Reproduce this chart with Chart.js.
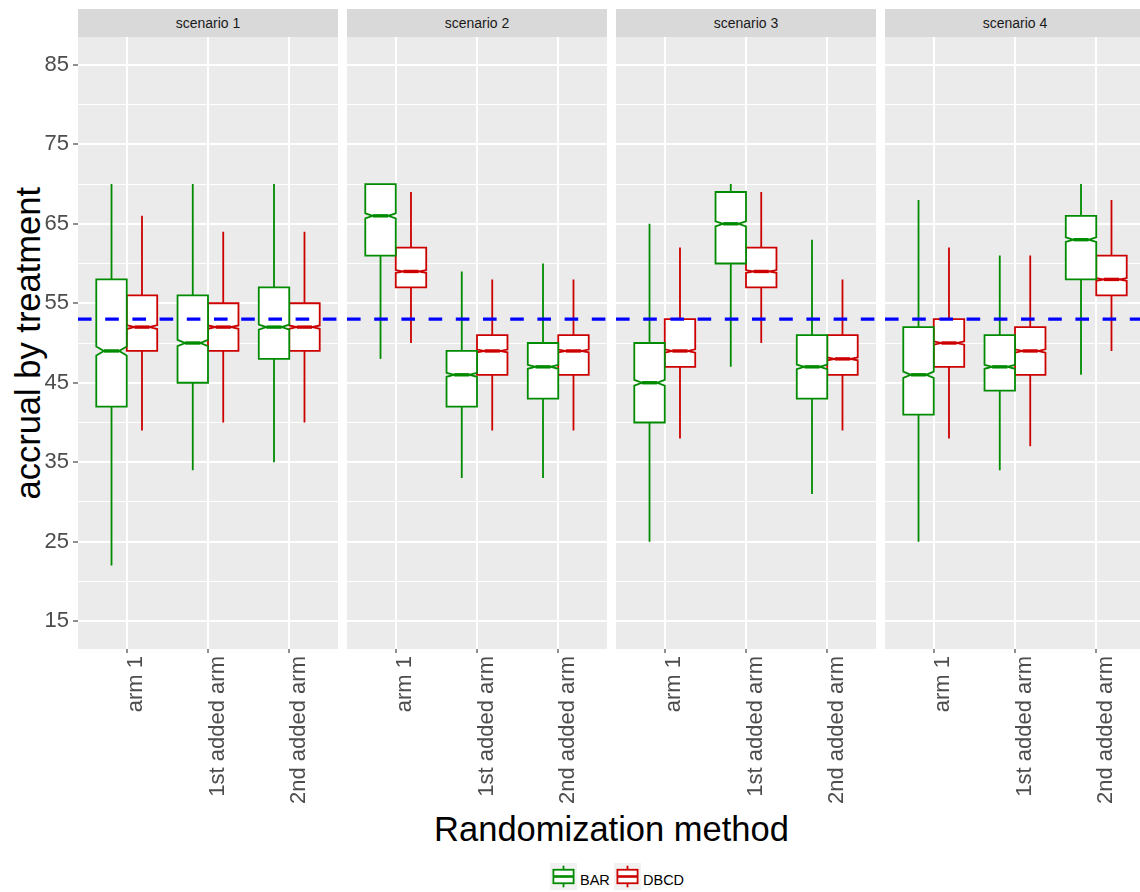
<!DOCTYPE html>
<html>
<head>
<meta charset="utf-8">
<script src="https://cdn.jsdelivr.net/npm/chart.js@4.4.1/dist/chart.umd.min.js"></script>
<style>
html, body { margin: 0; padding: 0; background: #fff; overflow: hidden; width: 1140px; height: 892px; }
body { position: relative; font-family: 'Liberation Sans', Arial, Helvetica, sans-serif; }
.panel { position: absolute; }
.strip { position: absolute; top: 9px; height: 28px; line-height: 28px; background: #D9D9D9; color: #1A1A1A; font-size: 14px; text-align: center; }
.ytitle { position: absolute; width: 400px; height: 34.5px; line-height: 34.5px; font-size: 34.5px; text-align: center; transform: rotate(-90deg); white-space: nowrap; }
.xtitle { position: absolute; width: 600px; height: 34.5px; line-height: 34.5px; font-size: 34.5px; text-align: center; white-space: nowrap; }
.key { position: absolute; top: 863px; }
.ltext { position: absolute; top: 873px; font-size: 14.5px; line-height: 14.5px; color: #000; }
</style>
</head>
<body>
<div class="ytitle" id="yTitle">accrual by treatment</div>
<div class="xtitle" id="xTitle">Randomization method</div>

<script>
// --- Data ---
const scenarios = ["scenario 1", "scenario 2", "scenario 3", "scenario 4"];
const arms = ["arm 1", "1st added arm", "2nd added arm"];
const seriesNames = ["BAR", "DBCD"];

// [lower whisker, Q1, median, Q3, upper whisker] per scenario, per arm
const barStats = [
    [[22, 42, 49, 58, 70], [34, 45, 50, 56, 70], [35, 48, 52, 57, 70]],
    [[48, 61, 66, 70, 70], [33, 42, 46, 49, 59], [33, 43, 47, 50, 60]],
    [[25, 40, 45, 50, 65], [47, 60, 65, 69, 70], [31, 43, 47, 51, 63]],
    [[25, 41, 46, 52, 68], [34, 44, 47, 51, 61], [46, 58, 63, 66, 70]]
];
const dbcdStats = [
    [[39, 49, 52, 56, 66], [40, 49, 52, 55, 64], [40, 49, 52, 55, 64]],
    [[50, 57, 59, 62, 69], [39, 46, 49, 51, 58], [39, 46, 49, 51, 58]],
    [[38, 47, 49, 53, 62], [50, 57, 59, 62, 69], [39, 46, 48, 51, 58]],
    [[38, 47, 50, 53, 62], [37, 46, 49, 52, 61], [49, 56, 58, 61, 68]]
];
const targetAccrual = 53;
const nSims = 2000; // used for notch height

const yMajorTicks = [15, 25, 35, 45, 55, 65, 75, 85];
const yMinorTicks = [20, 30, 40, 50, 60, 70, 80];
const yMin = 11.5, yMax = 88.5;

// --- Layout ---
const colors = ["#008B00", "#CD0000"];
const panelLeft = [78, 347, 616, 885];
const panelW = 260;
const plotTop = 37, plotBottom = 649;
const chartTop = 17, chartBottom = 830;
const yAxisW = 78;
const FONT = "'Liberation Sans', Arial, Helvetica, sans-serif";

Chart.defaults.font.family = FONT;

const isMajor = v => yMajorTicks.includes(v);

// notched boxplots drawn from the bar elements + y scale
const boxPlugin = {
    id: "notchBox",
    beforeDraw(chart) {
        const a = chart.chartArea;
        const ctx = chart.ctx;
        ctx.save();
        ctx.fillStyle = "#EBEBEB";
        ctx.fillRect(a.left, a.top, a.right - a.left, a.bottom - a.top);
        ctx.restore();
    },
    afterDatasetDraw(chart, args) {
        const ds = chart.data.datasets[args.index];
        if (!ds.stats) return;
        const ctx = chart.ctx;
        const y = chart.scales.y;
        const py = v => y.getPixelForValue(v);

        ctx.save();
        ctx.strokeStyle = ds.lineColor;
        args.meta.data.forEach((bar, i) => {
            const [lo, q1, med, q3, hi] = ds.stats[i];
            const x0 = bar.x - bar.width / 2;
            const x1 = bar.x + bar.width / 2;
            const notch = 1.58 * (q3 - q1) / Math.sqrt(nSims);
            const inset = bar.width * 0.25;

            // whiskers
            ctx.lineWidth = 1.8;
            ctx.beginPath();
            ctx.moveTo(bar.x, py(hi)); ctx.lineTo(bar.x, py(q3));
            ctx.moveTo(bar.x, py(q1)); ctx.lineTo(bar.x, py(lo));
            ctx.stroke();

            // box
            ctx.beginPath();
            ctx.moveTo(x0, py(q3));
            ctx.lineTo(x0, py(med + notch));
            ctx.lineTo(x0 + inset, py(med));
            ctx.lineTo(x0, py(med - notch));
            ctx.lineTo(x0, py(q1));
            ctx.lineTo(x1, py(q1));
            ctx.lineTo(x1, py(med - notch));
            ctx.lineTo(x1 - inset, py(med));
            ctx.lineTo(x1, py(med + notch));
            ctx.lineTo(x1, py(q3));
            ctx.closePath();
            ctx.fillStyle = "#FFFFFF";
            ctx.fill();
            ctx.stroke();

            // median
            ctx.lineWidth = 3.4;
            ctx.beginPath();
            ctx.moveTo(x0 + inset, py(med));
            ctx.lineTo(x1 - inset, py(med));
            ctx.stroke();
        });
        ctx.restore();
    }
};

function boxDataset(name, stats, color) {
    return {
        label: name,
        data: stats.map((s, j) => ({ x: j, y: [s[1], s[3]] })),
        stats: stats,
        lineColor: color,
        backgroundColor: "rgba(0,0,0,0)",
        borderWidth: 0,
        categoryPercentage: 0.75,
        barPercentage: 1,
        order: 1
    };
}

function makeConfig(s, axisW) {
    const showY = s === 0;
    return {
        type: "bar",
        data: {
            datasets: [
                boxDataset(seriesNames[0], barStats[s], colors[0]),
                boxDataset(seriesNames[1], dbcdStats[s], colors[1]),
                {
                    type: "line",
                    label: "target",
                    data: [{ x: -0.6, y: targetAccrual }, { x: arms.length - 0.4, y: targetAccrual }],
                    borderColor: "#0000FF",
                    borderWidth: 3.4,
                    borderDash: [13.6, 13.6],
                    pointRadius: 0,
                    order: 0
                }
            ]
        },
        options: {
            responsive: true,
            maintainAspectRatio: false,
            animation: false,
            events: [],
            layout: { padding: { top: plotTop - chartTop, left: 0, right: 0, bottom: 0 } },
            plugins: { legend: { display: false }, tooltip: { enabled: false } },
            scales: {
                x: {
                    type: "linear",
                    min: -0.6,
                    max: arms.length - 0.4,
                    offset: false,
                    afterBuildTicks: sc => { sc.ticks = arms.map((a, i) => ({ value: i })); },
                    afterFit: sc => { sc.height = chartBottom - plotBottom; },
                    grid: {
                        offset: false, color: "#FFFFFF", lineWidth: 2,
                        drawTicks: true, tickLength: 4, tickColor: "#333333", tickWidth: 1.1
                    },
                    border: { display: false },
                    ticks: {
                        autoSkip: false, minRotation: 90, maxRotation: 90,
                        padding: 3, labelOffset: 9.5,
                        color: "#4D4D4D", font: { size: 22 },
                        callback: v => arms[v]
                    }
                },
                y: {
                    type: "linear",
                    min: yMin,
                    max: yMax,
                    afterBuildTicks: sc => {
                        sc.ticks = yMajorTicks.concat(yMinorTicks).sort((a, b) => a - b).map(v => ({ value: v }));
                    },
                    afterFit: sc => { sc.width = axisW; },
                    grid: {
                        color: "#FFFFFF",
                        lineWidth: c => (c.tick && isMajor(c.tick.value)) ? 2 : 1,
                        drawTicks: showY,
                        tickLength: 5,
                        tickColor: c => (c.tick && isMajor(c.tick.value)) ? "#333333" : "rgba(0,0,0,0)",
                        tickWidth: 1.1
                    },
                    border: { display: false },
                    ticks: {
                        display: showY, padding: 4,
                        color: "#4D4D4D", font: { size: 22 },
                        callback: v => isMajor(v) ? String(v) : ""
                    }
                }
            }
        },
        plugins: [boxPlugin]
    };
}

// --- Panels ---
scenarios.forEach((name, s) => {
    const strip = document.createElement("div");
    strip.className = "strip";
    strip.style.left = panelLeft[s] + "px";
    strip.style.width = panelW + "px";
    strip.textContent = name;
    document.body.appendChild(strip);

    const axisW = s === 0 ? yAxisW : 0;
    const box = document.createElement("div");
    box.className = "panel";
    box.style.left = (panelLeft[s] - axisW) + "px";
    box.style.top = chartTop + "px";
    box.style.width = (axisW + panelW) + "px";
    box.style.height = (chartBottom - chartTop) + "px";
    const canvas = document.createElement("canvas");
    box.appendChild(canvas);
    document.body.appendChild(box);

    new Chart(canvas, makeConfig(s, axisW));
});

// --- Titles ---
const yTitle = document.getElementById("yTitle");
yTitle.style.left = (28 - 200) + "px";
yTitle.style.top = ((plotTop + plotBottom) / 2 - 17.25) + "px";

const xTitle = document.getElementById("xTitle");
xTitle.style.left = ((panelLeft[0] + panelLeft[3] + panelW) / 2 - 300) + "px";
xTitle.style.top = "811.8px";

// --- Legend ---
function legendKey(color) {
    return `<svg width="27" height="27" viewBox="0 0 27 27">
      <rect x="0" y="0" width="27" height="27" fill="#F2F2F2"/>
      <line x1="13.5" y1="2.7" x2="13.5" y2="6.75" stroke="${color}" stroke-width="1.8"/>
      <line x1="13.5" y1="20.25" x2="13.5" y2="24.3" stroke="${color}" stroke-width="1.8"/>
      <rect x="3.4" y="6.75" width="20.2" height="13.5" fill="#FFFFFF" stroke="${color}" stroke-width="1.8"/>
      <line x1="3.4" y1="13.5" x2="23.6" y2="13.5" stroke="${color}" stroke-width="2.6"/>
    </svg>`;
}

const legendKeyLeft = [550, 614];
const legendTextLeft = [580, 643];
seriesNames.forEach((name, i) => {
    const k = document.createElement("div");
    k.className = "key";
    k.style.left = legendKeyLeft[i] + "px";
    k.innerHTML = legendKey(colors[i]);
    document.body.appendChild(k);

    const t = document.createElement("div");
    t.className = "ltext";
    t.style.left = legendTextLeft[i] + "px";
    t.textContent = name;
    document.body.appendChild(t);
});
</script>
</body>
</html>
